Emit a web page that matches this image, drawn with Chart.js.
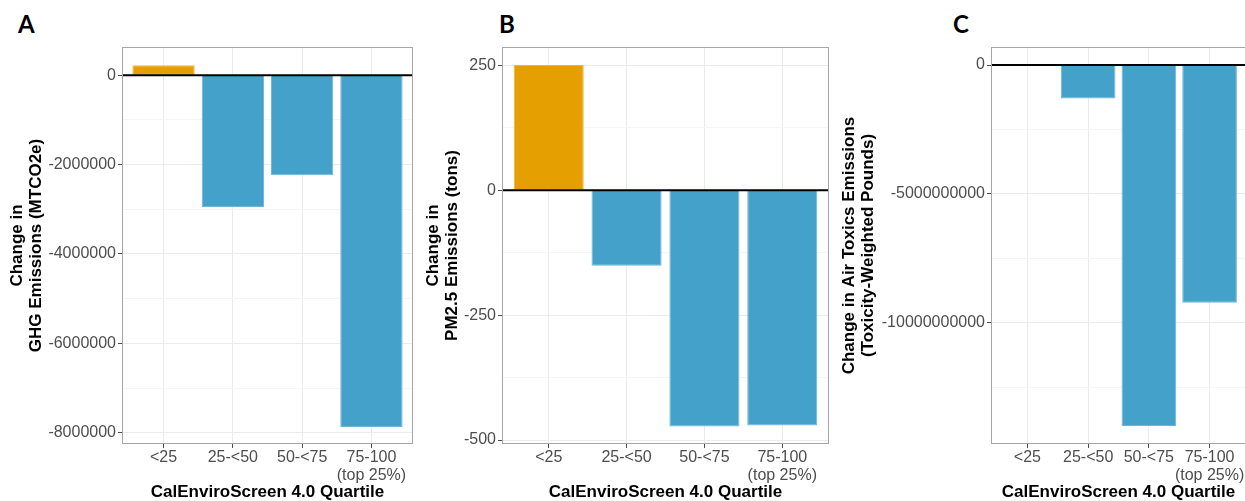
<!DOCTYPE html>
<html>
<head>
<meta charset="utf-8">
<script src="https://cdn.jsdelivr.net/npm/chart.js@4.4.0/dist/chart.umd.min.js"></script>
<style>
    body { margin: 0; width: 1245px; height: 501px; overflow: hidden; background: #fff; position: relative; }
    canvas { position: absolute; top: 0; }
    .tag { position: absolute; top: 12px; font: bold 24px Lato, "Open Sans", sans-serif; line-height: 24px; color: #000; }
</style>
</head>
<body>
<div class="tag" style="left:18px">A</div>
<div class="tag" style="left:499px">B</div>
<div class="tag" style="left:953px">C</div>
<canvas id="ghgChart" width="416" height="501" style="left:0px"></canvas>
<canvas id="pmChart" width="416" height="501" style="left:416px"></canvas>
<canvas id="toxChart" width="416" height="501" style="left:832px"></canvas>
<script>
// Dữ liệu
const categories = ['<25', '25-<50', '50-<75', ['75-100', '(top 25%)']];
const ghgValues = [220000, -2950000, -2240000, -7870000];
const pm25Values = [251, -151, -473, -471];
const toxicsValues = [0, -1300000000, -14000000000, -9220000000];

// Nhãn trục y (major)
const ghgTicks = [-8000000, -6000000, -4000000, -2000000, 0];
const pm25Ticks = [-500, -250, 0, 250];
const toxicsTicks = [-10000000000, -5000000000, 0];

const ORANGE = '#E69F00';
const BLUE = '#43A1CA';

Chart.defaults.font.family = '"Liberation Sans", Arial, sans-serif';

// Khung panel + đường 0 màu đen (giống ggplot)
const panelFrame = {
    id: 'panelFrame',
    afterDatasetsDraw(chart) {
        const ctx = chart.ctx;
        const a = chart.chartArea;
        const y0 = chart.scales.y.getPixelForValue(0);
        ctx.save();
        ctx.strokeStyle = '#000';
        ctx.lineWidth = 2;
        ctx.beginPath();
        ctx.moveTo(a.left, y0);
        ctx.lineTo(a.right, y0);
        ctx.stroke();
        ctx.strokeStyle = '#a6a6a6';
        ctx.lineWidth = 1;
        ctx.strokeRect(a.left + 0.5, a.top + 0.5, a.right - a.left - 1, a.bottom - a.top - 1);
        ctx.restore();
    }
};

function drawPanel(id, values, majors, yMin, yMax, yTitle, yWidth, padRight) {
    const isMajor = v => majors.includes(v);
    // major + minor (điểm giữa) như theme_bw
    const half = (majors[1] - majors[0]) / 2;
    const gridValues = [];
    for (let v = majors[0] - half; v <= yMax; v += half) {
        if (v >= yMin) gridValues.push(v);
    }
    new Chart(document.getElementById(id).getContext('2d'), {
        type: 'bar',
        data: {
            datasets: [{
                data: values.map((v, i) => ({ x: i + 1, y: v })),
                backgroundColor: values.map(v => v >= 0 ? ORANGE : BLUE),
                borderColor: values.map(v => v >= 0 ? '#EDB53F' : '#6DB6DA'),
                borderWidth: 1,
                barPercentage: 0.9,
                categoryPercentage: 1
            }]
        },
        options: {
            responsive: false,
            animation: false,
            events: [],
            layout: { padding: { top: 47, right: padRight, left: 0, bottom: 0 } },
            plugins: {
                legend: { display: false },
                tooltip: { enabled: false }
            },
            scales: {
                x: {
                    type: 'linear',
                    min: 0.4,
                    max: 4.6,
                    offset: false,
                    afterFit: s => { s.height = 57; },
                    border: { display: false },
                    grid: {
                        offset: false,
                        color: '#ebebeb',
                        tickColor: '#4d4d4d',
                        tickLength: 4
                    },
                    ticks: {
                        stepSize: 1,
                        includeBounds: false,
                        autoSkip: false,
                        maxRotation: 0,
                        padding: 1,
                        color: '#4d4d4d',
                        font: { size: 16, lineHeight: 1.1 },
                        callback: v => categories[v - 1]
                    },
                    title: {
                        display: true,
                        text: 'CalEnviroScreen 4.0 Quartile',
                        color: '#000',
                        padding: 0,
                        font: { size: 17, weight: 'bold', lineHeight: 1 }
                    }
                },
                y: {
                    min: yMin,
                    max: yMax,
                    afterFit: s => { s.width = yWidth; },
                    afterBuildTicks: s => { s.ticks = gridValues.map(v => ({ value: v })); },
                    border: { display: false },
                    grid: {
                        color: c => isMajor(c.tick.value) ? '#ebebeb' : '#f5f5f5',
                        tickColor: c => isMajor(c.tick.value) ? '#4d4d4d' : 'rgba(0,0,0,0)',
                        tickLength: 4
                    },
                    ticks: {
                        autoSkip: false,
                        padding: 2,
                        color: '#4d4d4d',
                        font: { size: 16 },
                        callback: v => isMajor(v) ? String(v) : ''
                    },
                    title: {
                        display: true,
                        text: yTitle,
                        color: '#000',
                        padding: { top: 8, bottom: 0 },
                        font: { size: 17, weight: 'bold', lineHeight: 1.12 }
                    }
                }
            }
        },
        plugins: [panelFrame]
    });
}

drawPanel('ghgChart', ghgValues, ghgTicks, -8250000, 630000,
    ['Change in', 'GHG Emissions (MTCO2e)'], 122, 3);
drawPanel('pmChart', pm25Values, pm25Ticks, -508, 287,
    ['Change in', 'PM2.5 Emissions (tons)'], 86, 3);
drawPanel('toxChart', toxicsValues, toxicsTicks, -14700000000, 700000000,
    ['Change in Air Toxics Emissions', '(Toxicity-Weighted Pounds)'], 159, 2);
</script>
</body>
</html>
